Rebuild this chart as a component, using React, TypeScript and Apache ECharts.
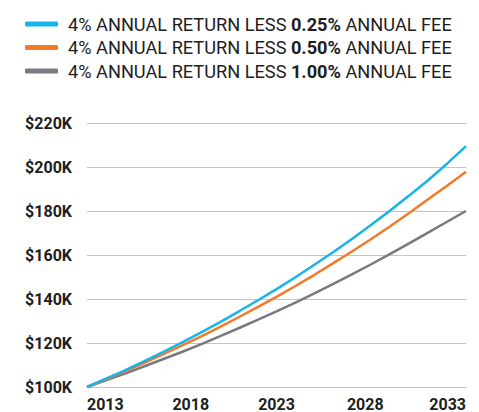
import React, { useEffect, useRef } from "react";
import * as echarts from "echarts";

const years = [
  "2013","2014","2015","2016","2017","2018","2019","2020","2021","2022","2023",
  "2024","2025","2026","2027","2028","2029","2030","2031","2032","2033",
];
const fee025 = [100, 103.8, 107.6, 111.7, 115.9, 120.2, 124.7, 129.4, 134.3, 139.3, 144.5, 149.9, 155.6, 161.4, 167.4, 173.7, 180.2, 187.0, 194.0, 201.5, 209.5];
const fee050 = [100, 103.5, 107.1, 110.9, 114.8, 118.8, 122.9, 127.2, 131.7, 136.3, 141.0, 145.9, 151.0, 156.3, 161.7, 167.3, 173.1, 179.1, 185.3, 191.5, 197.8];
const fee100 = [100, 103.0, 106.1, 109.3, 112.6, 115.9, 119.4, 123.0, 126.7, 130.5, 134.4, 138.4, 142.6, 146.9, 151.3, 155.8, 160.5, 165.3, 170.2, 175.1, 180.0];
const seriesNames = ["0.25%", "0.50%", "1.00%"];
const yTicks = { min: 100, max: 220, step: 20 };

export default function App() {
  const ref = useRef<HTMLDivElement>(null);
  useEffect(() => {
    const chart = echarts.init(ref.current!, null, { renderer: "svg" });
    const colors = ["#17b4ea", "#f47a2a", "#787a83"];
    const datas = [fee025, fee050, fee100];
    const lab = { fontFamily: "Roboto", fontWeight: "bold", fontSize: 16, color: "#1e1e1e" };
    chart.setOption({
      animation: false,
      textStyle: { fontFamily: "Roboto" },
      legend: {
        orient: "vertical",
        left: 20,
        top: 10,
        itemWidth: 33,
        itemHeight: 5,
        itemGap: 5.5,
        icon: "roundRect",
        data: seriesNames,
        formatter: (name: string) => `{n|4% ANNUAL RETURN LESS }{b|${name}}{n| ANNUAL FEE}`,
        textStyle: {
          padding: [0, 0, 0, 5],
          rich: {
            n: { fontFamily: "Roboto", fontSize: 18.2, color: "#1e1e1e", lineHeight: 21 },
            b: { fontFamily: "Roboto", fontSize: 18.2, fontWeight: "bold", color: "#1e1e1e", lineHeight: 21 },
          },
        },
      },
      grid: { left: 87, right: 13, top: 123, bottom: 22, containLabel: false },
      xAxis: {
        type: "category",
        data: years,
        boundaryGap: false,
        axisLine: { show: false },
        axisTick: { show: false },
        axisLabel: {
          interval: 4,
          margin: 9,
          ...lab,
          alignMinLabel: "left",
          alignMaxLabel: "right",
          formatter: (v: string) => (v === "2018" ? `{r|${v}}` : v === "2028" ? `{l|${v}}` : v),
          rich: {
            r: { ...lab, padding: [0, 0, 0, 18] },
            l: { ...lab, padding: [0, 12, 0, 0] },
          },
        },
        splitLine: { show: false },
      },
      yAxis: {
        type: "value",
        min: yTicks.min,
        max: yTicks.max,
        interval: yTicks.step,
        axisLine: { show: false },
        axisTick: { show: false },
        axisLabel: {
          margin: 15,
          ...lab,
          formatter: (v: number) => `$${v}K`,
        },
        splitLine: { lineStyle: { color: "#c3c5cb", width: 1.2 } },
      },
      series: seriesNames.map((name, i) => ({
        name,
        type: "line",
        data: datas[i],
        showSymbol: false,
        symbol: "none",
        color: colors[i],
        lineStyle: { width: 2.5, color: colors[i] },
        z: 3 - i,
      })),
    });
    return () => chart.dispose();
  }, []);
  return (
    <div
      ref={ref}
      style={{ position: "fixed", left: 0, top: 0, width: 479, height: 412, background: "#fff" }}
    />
  );
}
